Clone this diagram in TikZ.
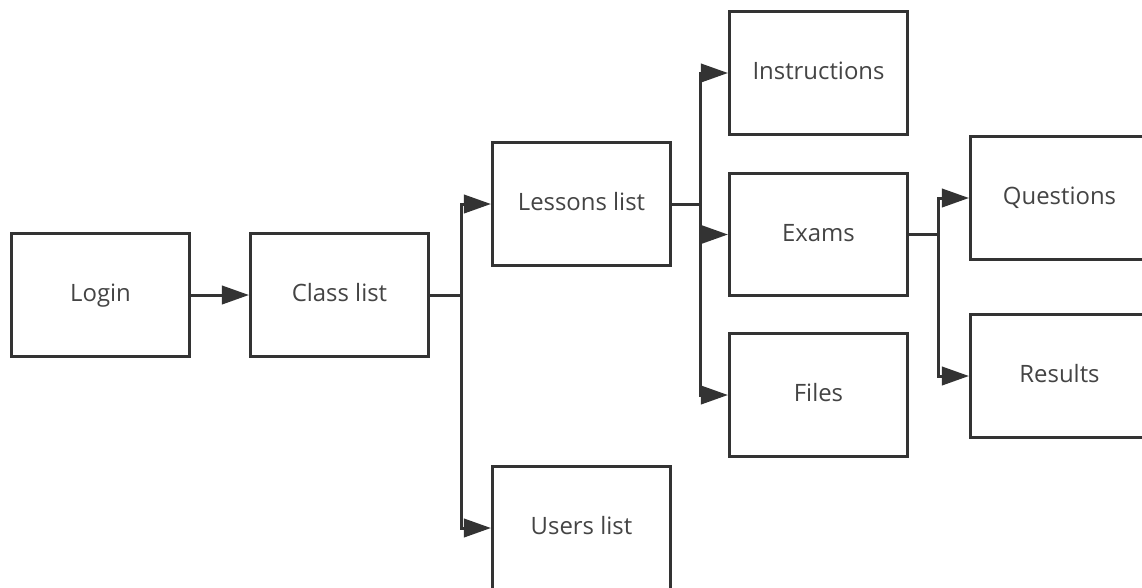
\documentclass[tikz,border=0pt]{standalone}
\usepackage{fontspec}
\setmainfont{Open Sans}
\usetikzlibrary{arrows.meta}
\definecolor{linegray}{HTML}{333333}
\definecolor{textgray}{HTML}{444444}
\begin{document}
\begin{tikzpicture}[x=0.025cm, y=-0.025cm,
        box/.style={draw=linegray, line width=0.075cm, minimum width=4.45cm, minimum height=3.05cm,
            text=textgray, font=\fontsize{17}{20}\selectfont, text height=2ex, text depth=0.2ex},
        arr/.style={draw=linegray, line width=0.075cm, -{Triangle[length=0.68cm, width=0.46cm]}},
        link/.style={draw=linegray, line width=0.075cm}]
        \useasboundingbox (0,0) rectangle (1142,587);

        \node[box] (login) at (100.5,295) {Login};
        \node[box] (classlist) at (339.5,295) {Class list};
        \node[box] (lessons) at (581.5,204) {Lessons list};
        \node[box] (users) at (581.5,528) {Users list};
        \node[box] (instructions) at (818.5,73) {Instructions};
        \node[box] (exams) at (818.5,234.5) {Exams};
        \node[box] (files) at (818.5,395) {Files};
        \node[box] (questions) at (1059.5,198) {Questions};
        \node[box] (results) at (1059.5,376) {Results};

        \coordinate (j1) at (461,295);
        \coordinate (j2) at (700,204);
        \coordinate (j3) at (938,234.5);

        \draw[arr] (login) -- (classlist);

        \draw[link] (classlist.east) -- (j1);
        \draw[arr] (j1) |- (lessons);
        \draw[arr] (j1) |- (users);

        \draw[link] (lessons.east) -- (j2);
        \draw[arr] (j2) |- (instructions);
        \draw[arr] (j2) |- (exams);
        \draw[arr] (j2) |- (files);

        \draw[link] (exams.east) -- (j3);
        \draw[arr] (j3) |- (questions);
        \draw[arr] (j3) |- (results);
    \end{tikzpicture}
\end{document}
